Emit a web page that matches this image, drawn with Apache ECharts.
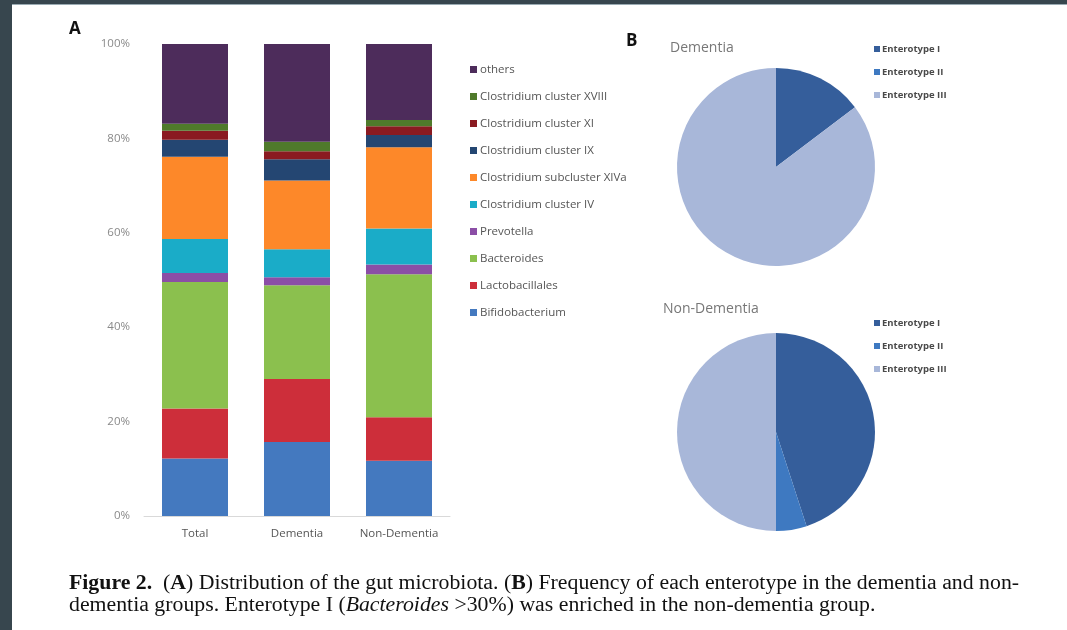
<!DOCTYPE html>
<html>
<head>
<meta charset="utf-8">
<title>Gut microbiota and enterotypes</title>
<script src="https://cdn.jsdelivr.net/npm/echarts@6/dist/echarts.min.js"></script>
<style>
  html, body { margin: 0; padding: 0; background: #ffffff; }
  #chart { width: 1067px; height: 630px; }
</style>
</head>
<body>
<div id="chart"></div>
<script>
// Panel A: stacked relative abundance (%) per group
const groups = ['Total', 'Dementia', 'Non-Dementia'];
const yTicks = ['0%', '20%', '40%', '60%', '80%', '100%'];

const bifidobacterium   = [12.2, 15.7, 11.7];
const lactobacillales   = [10.6, 13.3, 9.2];
const bacteroides       = [26.8, 19.9, 30.3];
const prevotella        = [1.9, 1.7, 2.1];
const clostridiumIV     = [7.2, 5.9, 7.6];
const clostridiumXIVa   = [17.4, 14.6, 17.2];
const clostridiumIX     = [3.6, 4.5, 2.6];
const clostridiumXI     = [1.9, 1.7, 1.9];
const clostridiumXVIII  = [1.5, 2.0, 1.3];
const others            = [16.9, 20.7, 16.1];

// Panel B: enterotype frequency (%)
const enterotypes = ['Enterotype I', 'Enterotype II', 'Enterotype III'];
const dementiaEnterotype    = [14.7, 0, 85.3];
const nonDementiaEnterotype = [45, 5, 50];

const taxa = [
  { name: 'Bifidobacterium', data: bifidobacterium, color: '#4479bf' },
  { name: 'Lactobacillales', data: lactobacillales, color: '#cd2e3a' },
  { name: 'Bacteroides', data: bacteroides, color: '#8bc04e' },
  { name: 'Prevotella', data: prevotella, color: '#8b4ea6' },
  { name: 'Clostridium cluster IV', data: clostridiumIV, color: '#1aacc8' },
  { name: 'Clostridium subcluster XIVa', data: clostridiumXIVa, color: '#fd8829' },
  { name: 'Clostridium cluster IX', data: clostridiumIX, color: '#244672' },
  { name: 'Clostridium cluster XI', data: clostridiumXI, color: '#8a1a21' },
  { name: 'Clostridium cluster XVIII', data: clostridiumXVIII, color: '#4f7a2b' },
  { name: 'others', data: others, color: '#4d2c5b' }
];
const enteroColors = ['#355e9b', '#3e79c1', '#a8b7d9'];

const sans = '"Open Sans", "Noto Sans", sans-serif';
const serif = '"Liberation Serif", "DejaVu Serif", serif';

const barSeries = taxa.map(t => ({
  name: t.name,
  type: 'bar',
  stack: 'abundance',
  barWidth: 66,
  data: t.data,
  itemStyle: { color: t.color },
  emphasis: { disabled: true }
}));

function pieSeries(name, values, cy) {
  return {
    name: name,
    type: 'pie',
    center: [776, cy],
    radius: 99,
    startAngle: 90,
    clockwise: true,
    label: { show: false },
    labelLine: { show: false },
    emphasis: { disabled: true },
    itemStyle: { borderWidth: 0 },
    data: enterotypes.map((e, i) => ({
      name: e,
      value: values[i],
      itemStyle: { color: enteroColors[i] }
    }))
  };
}

function enteroLegend(top) {
  return {
    data: enterotypes,
    orient: 'vertical',
    left: 874,
    top: top,
    padding: 0,
    icon: 'rect',
    itemWidth: 6,
    itemHeight: 6,
    itemGap: 12,
    selectedMode: false,
    textStyle: {
      fontFamily: sans, fontSize: 9.5, fontWeight: 'bold',
      color: '#4a4a4a', lineHeight: 11, padding: [0, 0, 0, -3]
    }
  };
}

const chart = echarts.init(document.getElementById('chart'), null, { renderer: 'canvas' });

chart.setOption({
  animation: false,
  backgroundColor: '#ffffff',
  grid: { left: 144, right: 617, top: 44, bottom: 114, containLabel: false },
  xAxis: {
    type: 'category',
    data: groups,
    axisLine: { lineStyle: { color: '#d9d9d9', width: 1 } },
    axisTick: { show: false },
    axisLabel: { interval: 0, fontFamily: sans, fontSize: 11.5, color: '#555555', margin: 12 }
  },
  yAxis: {
    type: 'value',
    min: 0,
    max: 100,
    interval: 20,
    axisLine: { show: false },
    axisTick: { show: false },
    splitLine: { show: false },
    axisLabel: {
      fontFamily: sans, fontSize: 11.5, color: '#8a8a8a', margin: 14,
      formatter: v => yTicks[Math.round(v / 20)]
    }
  },
  legend: [
    {
      data: taxa.map(t => t.name).reverse(),
      orient: 'vertical',
      left: 470,
      top: 63,
      padding: 0,
      icon: 'rect',
      itemWidth: 7,
      itemHeight: 7,
      itemGap: 14,
      selectedMode: false,
      textStyle: { fontFamily: sans, fontSize: 11.5, color: '#555555', lineHeight: 13, padding: [0, 0, 0, -2] }
    },
    enteroLegend(43.5),
    enteroLegend(317.5)
  ],
  series: barSeries.concat([
    pieSeries('Dementia', dementiaEnterotype, 167),
    pieSeries('Non-Dementia', nonDementiaEnterotype, 432)
  ]),
  graphic: [
    { type: 'rect', shape: { x: 0, y: 0, width: 1067, height: 4 }, style: { fill: '#37464e' }, z: 100 },
    { type: 'rect', shape: { x: 0, y: 4, width: 1067, height: 1 }, style: { fill: '#9aabb3' }, z: 100 },
    { type: 'rect', shape: { x: 0, y: 0, width: 12, height: 630 }, style: { fill: '#37464e' }, z: 100 },
    { type: 'text', left: 69, top: 21, style: { text: 'A', font: 'bold 17px ' + sans, fill: '#111111' } },
    { type: 'text', left: 626, top: 33, style: { text: 'B', font: 'bold 17px ' + sans, fill: '#111111' } },
    { type: 'text', left: 670, top: 41, style: { text: 'Dementia', font: '14px ' + sans, fill: '#777777' } },
    { type: 'text', left: 663, top: 302, style: { text: 'Non-Dementia', font: '14px ' + sans, fill: '#777777' } },
    {
      type: 'text', x: 69, y: 573, scaleX: 1.09,
      style: {
        text: '{b|Figure 2.}  ({b|A}) Distribution of the gut microbiota. ({b|B}) Frequency of each enterotype in the dementia and non-\n' +
              'dementia groups. Enterotype I ({i|Bacteroides} >30%) was enriched in the non-dementia group.',
        font: '20px ' + serif,
        fill: '#111111',
        lineHeight: 22,
        rich: {
          b: { font: 'bold 20px ' + serif, fill: '#111111', lineHeight: 22 },
          i: { font: 'italic 20px ' + serif, fill: '#111111', lineHeight: 22 }
        }
      }
    }
  ]
});
</script>
</body>
</html>
